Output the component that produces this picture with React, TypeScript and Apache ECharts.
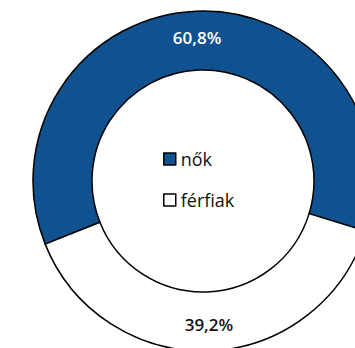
import React, { useEffect, useRef } from "react";
import * as echarts from "echarts";

const categories = ["nők", "férfiak"];
const values = [60.8, 39.2];
const labels = ["60,8%", "39,2%"];
const colors = ["#10528f", "#ffffff"];
const labelColors = ["#ffffff", "#111111"];

export default function App() {
  const ref = useRef<HTMLDivElement>(null);
  useEffect(() => {
    if (!ref.current) return;
    const chart = echarts.init(ref.current, undefined, { renderer: "svg" });
    chart.setOption({
      animation: false,
      legend: {
        orient: "vertical",
        left: 158,
        top: 144,
        itemWidth: 12,
        itemHeight: 12,
        itemGap: 21,
        icon: "rect",
        data: categories,
        itemStyle: { borderColor: "#000", borderWidth: 1.5 },
        textStyle: {
          fontFamily: "Open Sans",
          fontSize: 18,
          color: "#111",
          lineHeight: 20,
        },
      },
      series: [
        {
          type: "pie",
          center: [203, 181],
          radius: [111, 170],
          startAngle: 201.8,
          clockwise: true,
          silent: true,
          itemStyle: { borderColor: "#000", borderWidth: 1.5 },
          label: {
            show: true,
            position: "inside",
            fontFamily: "Open Sans",
            fontSize: 17,
            fontWeight: 600,
          },
          labelLine: { show: false },
          data: categories.map((c, i) => ({
            name: c,
            value: values[i],
            itemStyle: { color: colors[i] },
            label: { formatter: labels[i], color: labelColors[i] },
          })),
        },
      ],
    });
    return () => chart.dispose();
  }, []);
  return <div ref={ref} style={{ width: 355, height: 348, position: "absolute", left: 0, top: 0 }} />;
}
